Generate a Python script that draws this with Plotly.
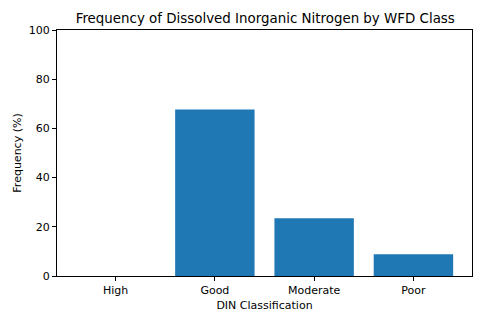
import plotly.graph_objects as go

categories = ["High", "Good", "Moderate", "Poor"]
frequency = [0.0, 67.7, 23.5, 8.8]

fig = go.Figure()
fig.add_trace(go.Bar(
    x=list(range(len(categories))),
    y=frequency,
    width=0.8,
    marker=dict(color="#1f77b4", line=dict(width=0)),
))

font = "DejaVu Sans"
fig.update_layout(
    width=484, height=323,
    margin=dict(l=57, r=12, t=30, b=47),
    paper_bgcolor="white", plot_bgcolor="white",
    showlegend=False,
    font=dict(family=font, size=11, color="black"),
    title=dict(text="Frequency of Dissolved Inorganic Nitrogen by WFD Class",
               x=0.548, xanchor="center", y=0.943, yanchor="middle",
               font=dict(family=font, size=13.4, color="black")),
)
fig.update_xaxes(
    range=[-0.59, 3.59],
    tickmode="array", tickvals=list(range(len(categories))), ticktext=categories,
    ticks="outside", ticklen=4, tickcolor="black",
    showline=True, linecolor="black", linewidth=1, mirror=True,
    showgrid=False, zeroline=False,
    title=dict(text="DIN Classification", standoff=5, font=dict(size=11)),
)
fig.update_yaxes(
    range=[0, 100],
    tickvals=[0, 20, 40, 60, 80, 100],
    ticks="outside", ticklen=4, tickcolor="black",
    showline=True, linecolor="black", linewidth=1, mirror=True,
    showgrid=False, zeroline=False,
    title=dict(text="Frequency (%)", standoff=4, font=dict(size=11)),
)

fig.write_html("out.html")
